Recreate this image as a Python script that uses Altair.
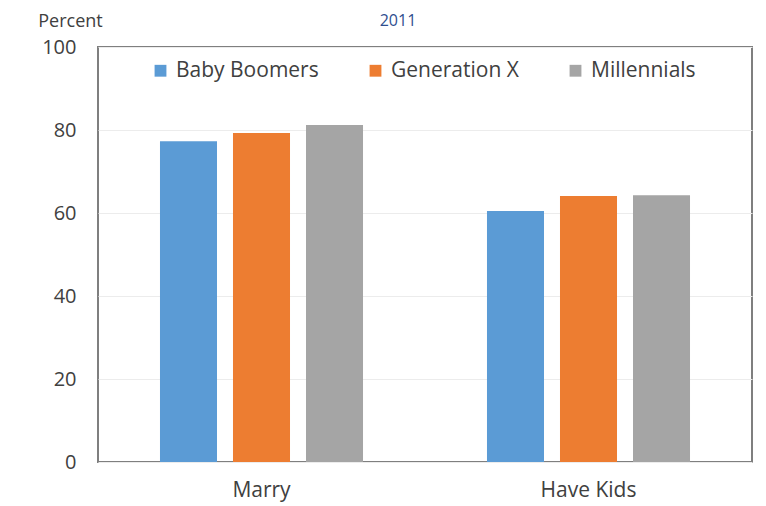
import altair as alt
import pandas as pd

categories = ["Marry", "Have Kids"]
generations = ["Baby Boomers", "Generation X", "Millennials"]
baby_boomers = [77.3, 60.5]
generation_x = [79.3, 64.1]
millennials = [81.2, 64.3]
colors = ["#5B9BD5", "#ED7D31", "#A5A5A5"]
title_text = "2011"
y_ticks = [0, 20, 40, 60, 80, 100]

rows = []
for i, c in enumerate(categories):
    for g, vals in zip(generations, [baby_boomers, generation_x, millennials]):
        rows.append({"category": c, "generation": g, "value": vals[i]})
df = pd.DataFrame(rows)

FONT = "Open Sans"
TXT = "#404040"

bars = alt.Chart(df).mark_bar().encode(
    x=alt.X("category:N", sort=categories,
            scale=alt.Scale(paddingInner=0, paddingOuter=0),
            axis=alt.Axis(title=None, labelAngle=0, ticks=False, domain=False,
                          labelPadding=17, labelFontSize=21, labelColor=TXT,
                          labelFont=FONT)),
    xOffset=alt.XOffset("generation:N", sort=generations,
                        scale=alt.Scale(paddingInner=0.219, paddingOuter=0.849)),
    y=alt.Y("value:Q",
            scale=alt.Scale(domain=[0, 100], nice=False),
            axis=alt.Axis(values=y_ticks, title="Percent", titleAngle=0,
                          titleX=-28, titleY=-26, titleAlign="center",
                          titleBaseline="middle", titleFont=FONT,
                          titleFontSize=18, titleFontWeight="normal",
                          titleColor=TXT,
                          ticks=False, domain=False, labelPadding=22,
                          labelFontSize=20, labelColor=TXT, labelFont=FONT,
                          grid=True, gridColor="#ececec", gridWidth=1)),
    color=alt.Color("generation:N",
                    scale=alt.Scale(domain=generations, range=colors),
                    legend=alt.Legend(title=None, orient="none", legendX=52,
                                      legendY=13, direction="horizontal",
                                      symbolType="square", symbolSize=140,
                                      symbolStrokeWidth=0, labelFont=FONT,
                                      labelFontSize=21, labelColor=TXT,
                                      labelOffset=5, columnPadding=46)),
)

title = alt.Chart(pd.DataFrame({"t": [title_text]})).mark_text(
    font=FONT, fontSize=16, color="#2F4E8F", align="center", baseline="alphabetic"
).encode(
    x=alt.value(300), y=alt.value(-21), text="t:N"
)

chart = alt.layer(bars, title).properties(
    width=654, height=415,
    padding={"left": 90, "top": 39, "right": 6, "bottom": 44},
    autosize=alt.AutoSizeParams(type="none"),
    background="white",
).configure_view(
    stroke="#7f7f7f", strokeWidth=2
)

chart.save("out.html", embed_options={"renderer": "svg", "actions": False})
